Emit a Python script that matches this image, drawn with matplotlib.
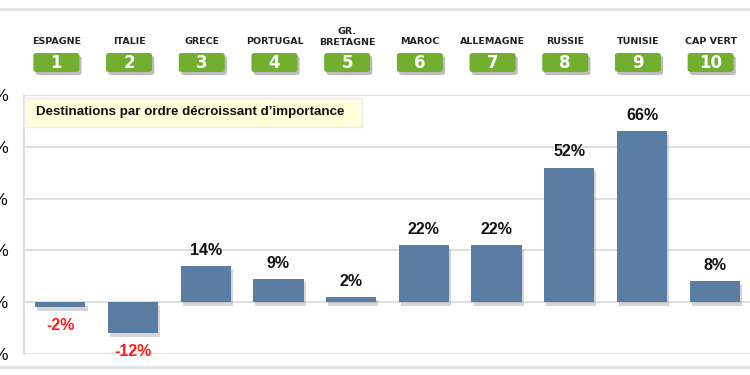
import matplotlib
matplotlib.use("Agg")
import matplotlib.pyplot as plt
import matplotlib.transforms as mtransforms
import matplotlib.patheffects as pe
from matplotlib.patches import FancyBboxPatch, Rectangle
from matplotlib.lines import Line2D

plt.rcParams['font.family'] = ['Liberation Sans', 'DejaVu Sans']

countries = ["ESPAGNE", "ITALIE", "GRECE", "PORTUGAL", "GR.\nBRETAGNE", "MAROC",
             "ALLEMAGNE", "RUSSIE", "TUNISIE", "CAP VERT"]
ranks = ["1", "2", "3", "4", "5", "6", "7", "8", "9", "10"]
values = [-2, -12, 14, 9, 2, 22, 22, 52, 66, 8]
yticks = [-20, 0, 20, 40, 60, 80]
ytick_labels = ["-20%", "0%", "20%", "40%", "60%", "80%"]
note = "Destinations par ordre décroissant d\u2019importance"

W, H = 750, 375
fig = plt.figure(figsize=(7.5, 3.75), dpi=100)
ax = fig.add_axes([24 / W, 1 - 354 / H, (751 - 24) / W, (354 - 95) / H])

x = list(range(len(values)))
bars = ax.bar(x, values, width=0.69, color="#5A7EA3", zorder=3)
for b in bars:
    b.set_path_effects([pe.SimplePatchShadow(offset=(1.5, -2.5), shadow_rgbFace="#8a8a8a", alpha=0.35),
                        pe.Normal()])

ax.set_xlim(-0.5, 9.5)
ax.set_ylim(-20, 80)
ax.set_yticks(yticks)
ax.set_yticklabels(ytick_labels, fontsize=12.5)
ax.tick_params(axis="y", length=0, pad=11)
ax.set_xticks([])
ax.grid(axis="y", color="#d9d9d9", linewidth=1.2, zorder=0)
for s in ["top", "right", "bottom"]:
    ax.spines[s].set_visible(False)
ax.spines["left"].set_color("#d9d9d9")
ax.spines["left"].set_linewidth(1.2)

for xi, v in zip(x, values):
    if v >= 0:
        ax.annotate(f"{v}%", (xi, v), xytext=(0, 6), textcoords="offset points",
                    ha="center", va="bottom", fontsize=11.5, fontweight="bold", color="#111111")
    else:
        ax.annotate(f"{v}%", (xi, v), xytext=(0, -8), textcoords="offset points",
                    ha="center", va="top", fontsize=11.5, fontweight="bold", color="#ff1a1a")

# Note box (figure pixel coordinates)
fig.add_artist(Rectangle((24 / W, 1 - 127 / H), (362 - 24) / W, 29 / H, transform=fig.transFigure,
                         facecolor="#FFFFD9", edgecolor="#ececec", linewidth=1, zorder=5))
fig.text(36 / W, 1 - 112.5 / H, note, fontsize=9.6, fontweight="bold", va="center", ha="left",
         color="#111111", zorder=6)

# Header: country names and rank boxes (slightly left of bar centres)
off = mtransforms.ScaledTranslation(-4 / 100, 0, fig.dpi_scale_trans)
trans = mtransforms.blended_transform_factory(ax.transData, fig.transFigure) + off
for xi, c, r in zip(x, countries, ranks):
    yc = 1 - 42 / H if "\n" not in c else 1 - 37 / H
    ax.text(xi, yc, c, transform=trans, ha="center", va="center", family="DejaVu Sans",
            fontsize=6.8, fontweight="bold", color="#222222", linespacing=1.15, clip_on=False)
    w = 46 / 72.7
    shadow = FancyBboxPatch((xi - w / 2 + 0.03, 1 - 75 / H), w, 19 / H,
                            boxstyle="round,pad=0,rounding_size=0.05", transform=trans,
                            facecolor="#444444", edgecolor="none", alpha=0.35, clip_on=False,
                            mutation_aspect=0.12)
    ax.add_patch(shadow)
    box = FancyBboxPatch((xi - w / 2, 1 - 72 / H), w, 19 / H,
                         boxstyle="round,pad=0,rounding_size=0.05", transform=trans,
                         facecolor="#72AF2E", edgecolor="none", clip_on=False,
                         mutation_aspect=0.12)
    ax.add_patch(box)
    ax.text(xi, 1 - 62.5 / H, r, transform=trans, ha="center", va="center", family="DejaVu Sans",
            fontsize=12, fontweight="bold", color="white", clip_on=False)

# Frame lines
for yy, col in [(9, "#e3e3e3"), (367, "#e3e3e3")]:
    fig.add_artist(Line2D([0, 1], [1 - yy / H, 1 - yy / H], transform=fig.transFigure,
                          color=col, linewidth=2))

fig.savefig("out.png", dpi=100)
